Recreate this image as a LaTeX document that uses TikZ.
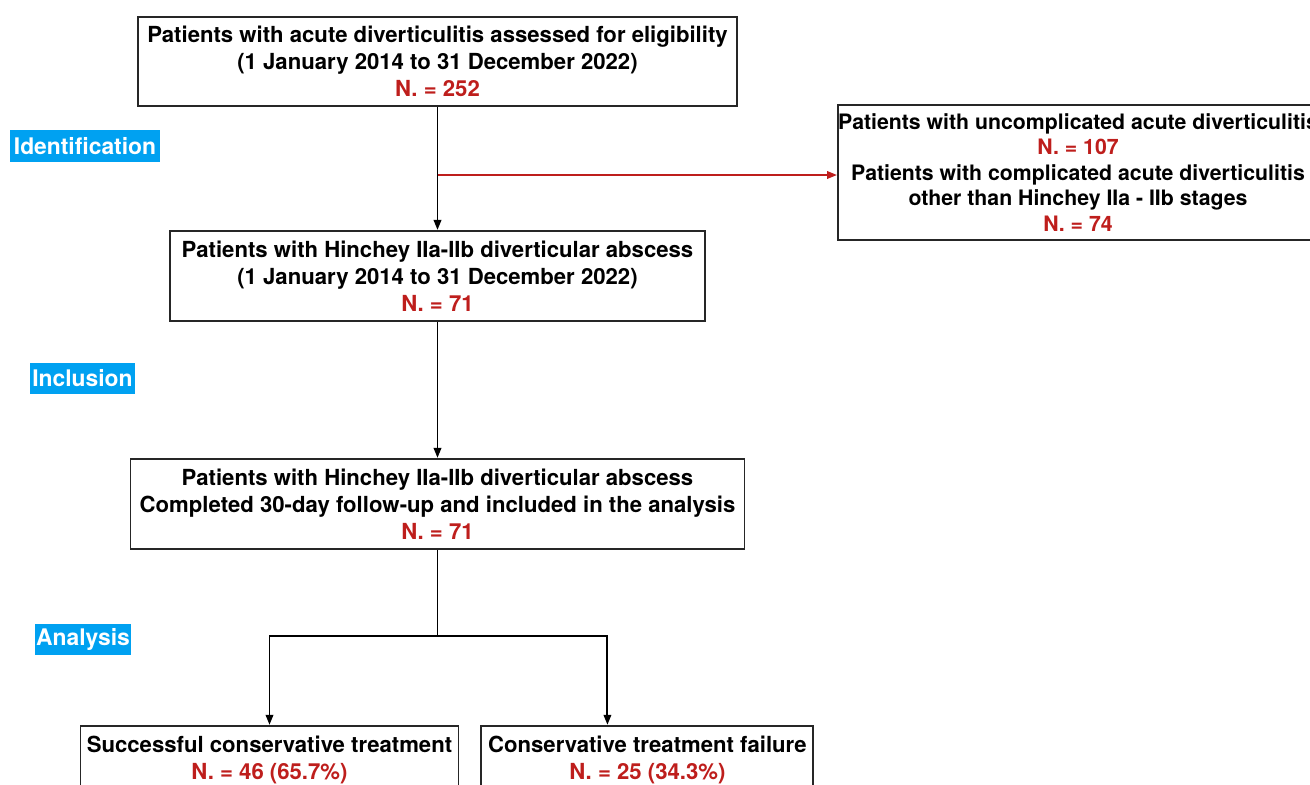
\documentclass[tikz,border=0pt]{standalone}
\usepackage{fontspec}
\setmainfont{TeX Gyre Heros}
\usepackage{xcolor}
\usetikzlibrary{positioning}
\usetikzlibrary{arrows.meta}
\definecolor{nred}{RGB}{190,30,28}
\definecolor{stageblue}{RGB}{0,161,241}
\tikzset{
	block/.style={
		rectangle,
		draw=black!85,
		line width=1.1pt,
		align=center,
		inner sep=0pt,
		font=\fontsize{12.6}{15.4}\selectfont\bfseries
	},
	stage/.style={
		rectangle,
		fill=stageblue,
		text=white,
		inner sep=0pt,
		minimum height=0.63cm,
		font=\fontsize{13}{15}\selectfont\bfseries
	}
}
\newcommand{\nval}[1]{\textcolor{nred}{#1}}

\begin{document}
\begin{tikzpicture}[>={Triangle[length=2mm,width=1.5mm]}, line width=1.1pt]
				\clip (0,0) rectangle (26.2,-15.7);
				\node[block, minimum width=11.98cm, minimum height=1.78cm] (assess) at (8.75,-1.23){Patients with acute diverticulitis assessed for eligibility\\ (1 January 2014 to 31 December 2022)\\ \nval{N. = 252}};
				\node[block, minimum width=10.7cm, minimum height=1.8cm, below=2.46cm of assess] (abscess){Patients with Hinchey IIa-IIb diverticular abscess\\ (1 January 2014 to 31 December 2022)\\ \nval{N. = 71}};
				\node[block, minimum width=12.28cm, minimum height=1.8cm, below=2.72cm of abscess] (analysed){Patients with Hinchey IIa-IIb diverticular abscess\\ Completed 30-day follow-up and included in the analysis\\ \nval{N. = 71}};
				\node[block, minimum width=9.6cm, minimum height=2.7cm, font=\fontsize{12.1}{14.5}\selectfont\bfseries] (excluded) at (21.56,-3.45){Patients with uncomplicated acute diverticulitis\\ \nval{N. = 107}\\ Patients with complicated acute diverticulitis\\ other than Hinchey IIa - IIb stages\\ \nval{N. = 74}};
				\node[block, minimum width=7.56cm, minimum height=1.36cm, below=3.5cm of analysed, xshift=-3.36cm] (success){Successful conservative treatment\\ \nval{N. = 46 (65.7\%)}};
				\node[block, minimum width=6.64cm, minimum height=1.36cm, right=0.42cm of success] (failure){Conservative treatment failure\\ \nval{N. = 25 (34.3\%)}};
				
				\node[stage, minimum width=3.0cm] (ident) at (1.7,-2.92){Identification};
				\node[stage, minimum width=2.1cm] (incl) at (1.65,-7.57){Inclusion};
				\node[stage, minimum width=1.92cm] (anal) at (1.66,-12.79){Analysis};
				
				\coordinate (split) at (8.75,-3.5);
				\draw[->] (assess.south) -- (abscess.north);
				\draw[->, nred] (split) -- (split -| excluded.west);
				\draw[->] (abscess.south) -- (analysed.north);
				\draw (analysed.south) -- ++(0,-1.72) coordinate (fork);
				\draw[->] (fork) -| (success.north);
				\draw[->] (fork) -| ([xshift=-0.8cm]failure.north);
			\end{tikzpicture}
\end{document}
